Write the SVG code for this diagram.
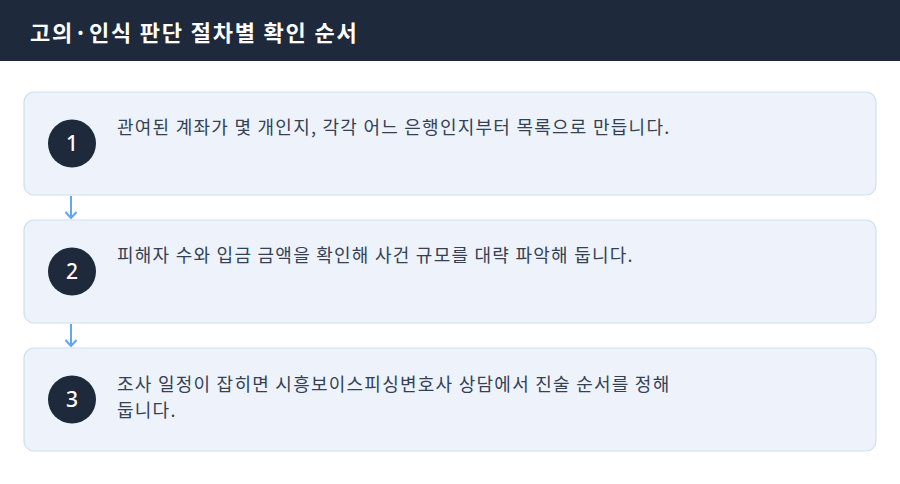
<svg xmlns="http://www.w3.org/2000/svg" width="900" height="484" viewBox="0 0 900 484">
<defs>
<style>
.box{fill:#eef3fb;stroke:#cddff5;stroke-width:1.2}
.num{fill:#1e293b}
.numt{fill:#ffffff;font-family:"Noto Sans","Noto Sans CJK KR",sans-serif;font-size:21px;font-weight:500;text-anchor:middle}
.txt{fill:#334155;font-family:"Noto Sans CJK KR","Noto Sans",sans-serif;font-size:18px;letter-spacing:1.25px}
.con{stroke:#60a5fa;stroke-width:2;fill:none}
</style>
<marker id="ah" viewBox="0 0 12 12" refX="10" refY="6" markerWidth="12" markerHeight="12" markerUnits="userSpaceOnUse" orient="auto">
<path d="M4,0.5 L10,6 L4,11.5" fill="none" stroke="#60a5fa" stroke-width="2"/>
</marker>
</defs>
<rect width="900" height="484" fill="#ffffff"/>
<rect x="0" y="0" width="900" height="61" fill="#1e293b"/>
<text x="30" y="41" fill="#ffffff" font-family="'Noto Sans CJK KR','Noto Sans',sans-serif" font-size="22" font-weight="700" letter-spacing="1.8">고의·인식 판단 절차별 확인 순서</text>
<g id="connectors">
<line class="con" x1="71" y1="196" x2="71" y2="218" marker-end="url(#ah)"/>
<line class="con" x1="71" y1="324" x2="71" y2="346" marker-end="url(#ah)"/>
</g>
<g id="step1">
<rect class="box" x="24" y="92" width="852" height="103" rx="10"/>
<circle class="num" cx="72" cy="143.5" r="24"/>
<text class="numt" x="72" y="151">1</text>
<text class="txt" x="117" y="134">관여된 계좌가 몇 개인지, 각각 어느 은행인지부터 목록으로 만듭니다.</text>
</g>
<g id="step2">
<rect class="box" x="24" y="220" width="852" height="103" rx="10"/>
<circle class="num" cx="72" cy="271.5" r="24"/>
<text class="numt" x="72" y="279">2</text>
<text class="txt" x="117" y="262">피해자 수와 입금 금액을 확인해 사건 규모를 대략 파악해 둡니다.</text>
</g>
<g id="step3">
<rect class="box" x="24" y="348" width="852" height="103" rx="10"/>
<circle class="num" cx="72" cy="399.5" r="24"/>
<text class="numt" x="72" y="407">3</text>
<text class="txt" x="117" y="391">조사 일정이 잡히면 시흥보이스피싱변호사 상담에서 진술 순서를 정해</text>
<text class="txt" x="117" y="417">둡니다.</text>
</g>
</svg>
